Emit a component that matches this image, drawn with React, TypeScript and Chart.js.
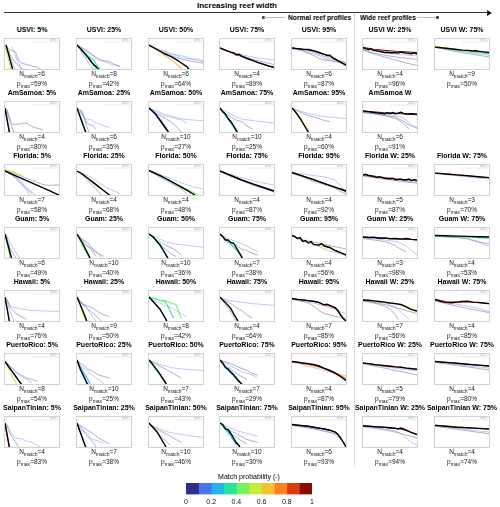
import React, { useEffect, useRef } from 'react';
import { Chart, registerables } from 'chart.js';
Chart.register(...registerables);

type Fit = [number, number[]];

// ---------- text data ----------
const titles: string[][] = [
  ['USVI: 5%', 'USVI: 25%', 'USVI: 50%', 'USVI: 75%', 'USVI: 95%', 'USVI W: 25%', 'USVI W: 75%'],
  ['AmSamoa: 5%', 'AmSamoa: 25%', 'AmSamoa: 50%', 'AmSamoa: 75%', 'AmSamoa: 95%', 'AmSamoa W'],
  ['Florida: 5%', 'Florida: 25%', 'Florida: 50%', 'Florida: 75%', 'Florida: 95%', 'Florida W: 25%', 'Florida W: 75%'],
  ['Guam: 5%', 'Guam: 25%', 'Guam: 50%', 'Guam: 75%', 'Guam: 95%', 'Guam W: 25%', 'Guam W: 75%'],
  ['Hawaii: 5%', 'Hawaii: 25%', 'Hawaii: 50%', 'Hawaii: 75%', 'Hawaii: 95%', 'Hawaii W: 25%', 'Hawaii W: 75%'],
  ['PuertoRico: 5%', 'PuertoRico: 25%', 'PuertoRico: 50%', 'PuertoRico: 75%', 'PuertoRico: 95%', 'PuertoRico W: 25%', 'PuertoRico W: 75%'],
  ['SaipanTinian: 5%', 'SaipanTinian: 25%', 'SaipanTinian: 50%', 'SaipanTinian: 75%', 'SaipanTinian: 95%', 'SaipanTinian W: 25%', 'SaipanTinian W: 75%'],
];
const nMatch: number[][] = [
  [6, 8, 6, 4, 6, 4, 9],
  [4, 6, 10, 10, 4, 6],
  [7, 4, 4, 4, 4, 5, 3],
  [6, 10, 10, 7, 4, 3, 4],
  [4, 9, 8, 4, 7, 7, 4],
  [8, 10, 7, 7, 4, 5, 4],
  [4, 7, 10, 10, 6, 4, 4],
];
const pMax: number[][] = [
  [59, 42, 64, 89, 87, 96, 50],
  [80, 35, 27, 25, 60, 91],
  [58, 68, 48, 87, 92, 87, 70],
  [49, 40, 36, 38, 56, 98, 53],
  [76, 50, 42, 64, 85, 56, 85],
  [54, 25, 43, 29, 87, 79, 80],
  [83, 38, 46, 30, 93, 94, 74],
];

// ---------- colour scale ----------
const probTicks = [0, 0.2, 0.4, 0.6, 0.8, 1];
const binColors = ['#2f3088', '#4a74ee', '#24b5e6', '#24e6a2', '#74f35c', '#c5ee3a', '#f2c233', '#fb8124', '#dc3c0c', '#8c0c04'];
const mslLevel = 9.0;
const mslStart = 5.2;

// ---------- profiles (x, y pairs flattened) ----------
const usviObs: number[][] = [
  [0.2, 8, 0.5, 6, 0.8, 4, 1.1, 2, 1.4, 0, 1.5, -1],
  [0, 8, 0.8, 6.5, 1.5, 5, 2.2, 3.5, 2.8, 2, 3.5, 0.8, 4.2, -0.5],
  [0, 8, 1, 7, 2, 6, 3, 5, 4, 4.2, 5, 3.2, 6, 2, 7, 0.8, 7.6, -0.5],
  [0, 7, 1, 6.3, 2, 5.6, 2.6, 5.3, 3, 4.7, 3.5, 4.9, 4, 4.3, 5, 3.5, 6, 2.9, 7, 2.2, 8, 1.6, 9, 1, 10, 0.6],
  [0, 7, 1, 6.8, 2, 6.6, 3, 6.5, 4, 6.1, 5, 5.5, 6, 4.9, 6.5, 4.5, 7, 4.6, 7.5, 3.8, 8, 3.3, 8.5, 2.8, 9, 2.3, 9.5, 1.8, 10, 1.2],
  [0, 7.1, 0.5, 6.8, 1, 6.5, 1.5, 6.7, 2, 6.2, 3, 5.9, 4, 5.5, 4.5, 5.6, 5, 5.4, 6, 5.5, 6.5, 5.3, 7, 5.6, 8, 5.3, 9, 5.1, 9.5, 5.4, 10, 5.0],
  [0, 7.3, 2, 6.9, 4, 6.5, 5, 6.3, 6, 6.2, 7, 6.0, 7.5, 6.1, 8, 5.9, 9, 5.7, 10, 5.5],
];
const usviFits: Fit[][] = [
  [[0.59, [0, 8, 0.4, 5, 0.8, 2, 1.1, 0, 1.2, -1]], [0.15, [0.3, 7.5, 0.8, 5, 1.2, 3, 1.6, 1, 2, -0.5]], [0.08, [0.5, 7.2, 1, 6.2, 1.5, 6, 2, 5.4, 2.5, 3, 3, 2, 4, 1.5, 5, 1, 6, 0.6, 6.5, 0]], [0.05, [0.2, 7.6, 1, 4.5, 2, 2, 3, 0.5, 3.5, -0.5]], [0.1, [1.2, 7.5, 1.5, 6.8, 2, 4, 2.5, 2, 3, 0]]],
  [[0.42, [0, 8, 1, 6, 2, 4, 2.6, 2.5, 3.2, 0.8, 3.8, -0.5]], [0.3, [0, 7.8, 1, 6.2, 2, 4.5, 3, 3, 3.8, 1, 4.3, 0]], [0.12, [0, 7.8, 1, 6.8, 2, 5.5, 3, 4.5, 4, 3.5, 5, 2.5, 6, 1.8, 7, 1.3, 8, 1]], [0.08, [0, 8, 1, 7, 2, 6, 3, 4.5, 4, 3, 5, 2.8, 6, 2.5, 7, 1.5, 8, 0.7]], [0.06, [0.3, 7.6, 1, 5, 1.8, 3, 2.5, 1, 3, 0]]],
  [[0.64, [0, 8, 1, 6.8, 2, 5.6, 3, 4.4, 4, 3.2, 5, 1.8, 5.8, 0.5, 6.3, -0.5]], [0.1, [0, 7.8, 2, 6.2, 4, 5, 5, 4.5, 6, 3.8, 7, 3.5, 8, 3.3, 9, 3.3, 10, 2.8]], [0.08, [0, 7.6, 2, 5.8, 4, 4.5, 6, 3.3, 8, 2.5, 10, 2]], [0.12, [0, 8, 2, 6.5, 4, 5.2, 5, 4.8, 7, 4, 8, 3.2, 10, 2.5]]],
  [[0.89, [0, 7, 1, 6.2, 2, 5.5, 3, 4.8, 4, 4.2, 5, 3.5, 6, 2.8, 7, 2.1, 8, 1.5, 9, 1, 10, 0.5]], [0.1, [0, 7, 2, 5.8, 4, 4.8, 6, 4, 8, 3.4, 10, 3]], [0.08, [0, 6.8, 2, 5.5, 4, 4.5, 6, 3.3, 8, 2.3, 10, 1.5]]],
  [[0.87, [0, 7, 2, 6.6, 3, 6.4, 4, 6, 5, 5.5, 6, 4.9, 7, 4.3, 8, 3.4, 9, 2.3, 10, 1.3]], [0.1, [0, 6.8, 2, 6.2, 3, 5.5, 4, 5, 5, 4.5, 6, 3.5, 7, 3, 8, 2.7, 9, 2.2, 10, 1.8]], [0.08, [0, 6.8, 2, 6, 3, 5.2, 4, 4.5, 5, 3.5, 6, 3, 7, 2.8, 8, 2.5, 10, 1.5]], [0.05, [0, 7, 2, 6.4, 4, 5.6, 6, 4.2, 8, 3, 10, 2.2]]],
  [[0.96, [0, 7.2, 2, 6.6, 4, 6.2, 6, 5.9, 8, 5.7, 10, 5.5]], [0.1, [0, 6.8, 2, 6, 4, 5.4, 6, 5, 8, 4.6, 10, 4.4]], [0.08, [0, 6.5, 2, 5.3, 4, 4.6, 6, 4, 8, 3.6, 10, 3.2]], [0.06, [0, 6.3, 2, 5, 4, 4, 6, 3, 8, 2, 10, 1.2]]],
  [[0.5, [0, 7.5, 2, 7, 4, 6.6, 6, 6.2, 8, 5.8, 10, 5.4]], [0.3, [0, 7.4, 2, 6.9, 4, 6.4, 6, 6, 8, 5.5, 10, 5.1]], [0.1, [0, 7.3, 2, 6.7, 4, 6.1, 6, 5.6, 8, 5.1, 10, 4.6]], [0.08, [0, 7.2, 2, 6.5, 4, 5.8, 6, 5.2, 8, 4.6, 10, 4]]],
];

const amsamoaObs: number[][] = [
  [0, 8, 0.2, 6, 0.4, 4, 0.6, 2, 0.8, 0, 0.9, -1],
  [0, 8, 0.4, 6, 0.8, 4, 1.2, 2, 1.6, 0, 1.7, -1],
  [0, 8, 0.6, 7, 1.2, 6, 1.8, 4.5, 2.4, 3, 3, 1.5, 3.6, 0, 3.8, -1],
  [0, 8, 0.5, 6.8, 1, 6, 1.5, 4.5, 2, 3.5, 2.5, 2, 3, 0.5, 3.3, -1],
  [0, 8, 0.5, 7, 1, 5.8, 1.5, 4.5, 2, 3, 2.5, 1.5, 3, 0, 3.2, -1],
  [0, 7, 1, 6.8, 2, 6.5, 3, 6.3, 4, 6.1, 4.5, 6.4, 5, 6.2, 5.5, 6.5, 6, 6.1, 6.5, 6.3, 7, 6.6, 7.5, 6.2, 8, 6.0, 9, 6.1, 10, 5.9],
];
const amsamoaFits: Fit[][] = [
  [[0.8, [0, 8, 0.3, 5, 0.6, 2, 0.8, 0, 0.9, -1]], [0.08, [0.4, 7.5, 0.8, 5, 1.2, 3, 1.6, 2.5, 2.5, 2.6, 3.5, 3, 4.2, 2.8, 5, 1.8, 6, 1.2, 7, 0.8]], [0.05, [0.2, 7.8, 0.8, 4, 1.2, 2, 1.6, 0]]],
  [[0.35, [0, 8, 0.5, 5.5, 1, 3, 1.4, 1, 1.6, 0]], [0.1, [0.4, 7.5, 1, 5.5, 1.5, 4.5, 2, 4, 2.5, 4.2, 3, 3.5, 3.5, 3, 4, 2.8, 5, 2, 6, 1.5]], [0.08, [0.3, 7.8, 0.8, 6.5, 1.3, 5, 1.8, 3, 2.3, 2.5, 3, 2, 3.5, 1]], [0.06, [0.6, 7.5, 1, 6.8, 1.2, 5.5, 1.6, 3, 2, 1, 2.2, 0]]],
  [[0.27, [0, 8, 1, 6.5, 2, 4, 3, 1.2, 3.5, 0]], [0.1, [0, 8, 1, 7, 2, 6, 3, 5.3, 4, 5, 5, 4.8, 6, 4.4, 7, 4.2, 8, 4, 10, 3.8]], [0.08, [0, 7.8, 1, 6.5, 2, 5.5, 3, 4.5, 4, 3.5, 5, 2, 5.5, 1, 6, 0]], [0.06, [0, 7.8, 1, 6, 2, 4.5, 2.5, 3.5, 3, 2, 3.5, 0.5]], [0.12, [0, 8, 1.5, 7, 3, 5.8, 4, 5.5, 5, 4.5, 6, 4, 7, 3]]],
  [[0.25, [0, 8, 0.6, 6.5, 1.2, 5, 1.8, 3.5, 2.4, 2, 3, 0.5, 3.3, -1]], [0.2, [0, 7.8, 0.8, 6, 1.5, 4.5, 2.2, 3, 2.8, 1.5, 3.3, 0]], [0.1, [0, 8, 1, 7, 2, 6, 3, 5, 4, 4.3, 6, 3.8, 8, 3.4, 10, 3]], [0.08, [0, 7.8, 1, 6.2, 2, 5, 3, 4, 4, 3.5, 5, 2, 6, 1]]],
  [[0.6, [0, 8, 0.5, 7, 1, 6, 1.5, 4.8, 2, 3.5, 2.5, 2, 3, 0.5, 3.2, -1]], [0.1, [0, 8, 1, 7.3, 2, 6.7, 3, 6.2, 4, 5.8, 5, 5.4, 6, 5.2, 8, 4.8, 10, 4.5]], [0.08, [0, 7.8, 1, 7, 2, 6.2, 3, 5.5, 4, 5, 5, 4.5, 6, 3.8, 7, 3.5]]],
  [[0.91, [0, 7, 2, 6.7, 4, 6.4, 6, 6.2, 8, 6, 10, 5.8]], [0.1, [0, 6.8, 2, 6.4, 4, 6, 6, 5.5, 7, 5, 8, 4, 9, 2.5, 10, 1]], [0.08, [0, 6.6, 2, 6.2, 4, 5.6, 6, 5, 7, 4, 8, 3, 9, 2, 10, 1.5]], [0.06, [0, 6.5, 2, 6, 4, 5.5, 5, 5, 6, 4.5, 7, 3.5, 8, 2, 8.5, 1]]],
];

const floridaObs: number[][] = [
  [0, 8, 2, 6.4, 4, 4.8, 6, 3.2, 8, 1.6, 9.5, 0.4, 10, 0],
  [0, 8, 1, 7, 2, 5.6, 3, 4.2, 4, 2.8, 5, 1.4, 6, 0, 6.5, -0.5],
  [0, 8.2, 2, 6.5, 4, 4.6, 6, 2.6, 7, 1.6, 8, 0.5, 8.5, 0],
  [0, 8, 2, 6.5, 4, 5, 6, 3.7, 8, 2.5, 10, 1.3],
  [0, 7.5, 2, 6.3, 4, 5.1, 6, 3.8, 8, 2.6, 10, 1.4],
  [0, 6.6, 0.5, 6.9, 1, 6.5, 2, 6.2, 2.5, 5.8, 3, 6.1, 4, 5.6, 5, 5.4, 5.5, 5.6, 6, 5.1, 7, 5.3, 7.5, 5.0, 8, 5.0, 8.5, 5.3, 9, 4.8, 9.5, 5.1, 10, 4.8],
  [0, 7.3, 2, 7.0, 4, 6.7, 6, 6.4, 8, 6.1, 10, 5.8],
];
const floridaFits: Fit[][] = [
  [[0.58, [0, 8.6, 1, 8, 2, 7.4, 3, 6.6, 3.5, 6.2]], [0.12, [0, 8, 1, 7, 2, 5.5, 3, 3.5, 4, 1.5, 4.5, 0]], [0.1, [0, 8, 1.5, 6.5, 3, 4.5, 4, 2.5, 5, 1, 5.5, 0]], [0.08, [0, 8.2, 2, 7, 4, 5.5, 6, 4.2, 7, 3.5, 8, 3.2, 9, 3.3, 10, 3.3]], [0.06, [0, 8, 2, 6, 3, 4, 4, 2, 5, 0.5]]],
  [[0.68, [0, 8, 1, 6.8, 2, 5.5, 3, 4, 4, 2.6, 5, 1.2, 6, -0.2]], [0.1, [0, 8, 1, 7.2, 2, 6.5, 3, 5.5, 4, 4.2, 5, 3, 6, 2, 7, 1.2, 8, 0.5]], [0.08, [0, 8, 1, 6.5, 2, 4.8, 3, 3, 4, 1, 4.5, 0]]],
  [[0.48, [0, 8.2, 2, 6.4, 4, 4.6, 6, 2.8, 8, 1, 9, 0]], [0.1, [0, 8, 2, 6.8, 4, 5.5, 6, 4, 8, 2.8, 10, 2]], [0.08, [0, 8, 2, 6, 4, 4, 6, 2, 7, 0.5]]],
  [[0.87, [0, 8, 2, 6.6, 4, 5.1, 6, 3.8, 8, 2.6, 10, 1.4]], [0.1, [0, 7.8, 2, 6.8, 4, 5.8, 6, 4.8, 8, 4, 10, 3.3]], [0.08, [0, 7.8, 2, 6.2, 4, 4.8, 6, 3.3, 8, 2.2, 10, 1]]],
  [[0.92, [0, 7.5, 2, 6.3, 4, 5.1, 6, 3.8, 8, 2.5, 10, 1.2]], [0.1, [0, 7.3, 2, 7, 4, 6.5, 6, 6, 7, 5.5, 8, 5, 9, 3, 10, 0.5]], [0.08, [0, 7.2, 2, 6, 4, 4.5, 6, 3.5, 8, 2.2, 9, 1.2, 10, 0.3]]],
  [[0.87, [0, 6.8, 2, 6.3, 4, 5.8, 6, 5.4, 8, 5.1, 10, 4.8]], [0.1, [0, 6.5, 2, 6, 4, 5.5, 6, 5, 8, 4.6, 10, 4.3]], [0.08, [0, 6.3, 2, 5.8, 4, 5.2, 6, 4.8, 8, 4.3, 10, 4]]],
  [[0.7, [0, 7.4, 2, 7.05, 4, 6.7, 6, 6.4, 8, 6.1, 10, 5.75]], [0.15, [0, 7.2, 2, 6.8, 4, 6.4, 6, 6, 8, 5.6, 10, 5.3]]],
];

const guamObs: number[][] = [
  [0, 8, 0.3, 6, 0.6, 4, 0.9, 2, 1.2, 0, 1.3, -1],
  [0, 8, 0.5, 6.5, 1, 5, 1.5, 3.2, 2, 1.5, 2.4, 0, 2.6, -1],
  [0, 8, 0.8, 7, 1.5, 5.5, 2, 4.5, 2.5, 3, 3, 1.5, 3.5, 0, 3.7, -1],
  [0, 8, 0.5, 7.2, 1, 6, 1.5, 6, 2, 5.2, 2.5, 5, 3, 3.5, 3.5, 2, 4, 0.5, 4.3, -1],
  [0, 7.5, 0.5, 7.2, 1, 6.5, 1.5, 6.8, 2, 5.5, 2.5, 5.8, 3, 5, 3.5, 5.5, 4, 4.5, 5, 4.3, 5.5, 4.8, 6, 4, 7, 3.5, 8, 2.5, 9, 1.8, 10, 1],
  [0, 7, 1, 6.8, 2, 6.9, 3, 6.6, 4, 6.7, 5, 6.4, 6, 6.5, 7, 6.3, 8, 6.5, 9, 6.2, 10, 6.1],
  [0, 7.5, 2, 7.4, 4, 7.3, 6, 7.2, 8, 7.1, 10, 7.0],
];
const guamFits: Fit[][] = [
  [[0.49, [0, 8, 0.3, 5.5, 0.6, 3, 0.9, 0.5, 1, -0.5]], [0.1, [0.3, 7.5, 0.8, 5.5, 1.2, 4, 1.6, 3, 2, 2, 2.5, 0.5, 2.8, 0]], [0.08, [0.2, 7.8, 0.6, 5, 1, 3, 1.5, 1.5, 2, 0]]],
  [[0.4, [0, 8, 0.5, 6, 1, 4.2, 1.5, 2.5, 2, 0.8, 2.3, 0]], [0.1, [0, 8, 1, 6.5, 1.5, 5, 2, 4, 3, 3, 4, 1.5, 4.5, 0]], [0.08, [0, 7.8, 0.8, 6, 1.5, 4.5, 2.5, 3, 3, 2, 3.5, 0.5]], [0.06, [0.3, 7.5, 1, 6, 1.8, 5.5, 2.5, 4, 3, 2.5, 4, 1.5, 5, 0.5]]],
  [[0.36, [0, 8, 0.8, 6.8, 1.6, 5, 2.4, 3, 3, 1.2, 3.4, 0]], [0.1, [0, 8, 1, 7.2, 2, 6.3, 3, 5.5, 4, 5, 5, 4.6, 7, 4.2, 10, 3.6]], [0.08, [0, 7.8, 1, 6.5, 2, 5.5, 3, 4.2, 4, 3.5, 5, 2.5, 6, 1]], [0.06, [0, 8, 1, 6.2, 2, 4.5, 3, 3, 4, 1.5, 5, 0.5]]],
  [[0.38, [0, 8, 0.6, 6.8, 1.2, 5.8, 2, 4.8, 2.8, 3, 3.5, 1.5, 4, 0]], [0.1, [0, 7.8, 1, 7, 2, 6.2, 3, 5.5, 4, 4.8, 5, 4, 6, 3, 7, 2]], [0.08, [0, 7.8, 1, 6.5, 2, 5, 3, 4.2, 4, 3, 5, 2.5, 6, 1.5, 7, 1]], [0.06, [0.2, 7.5, 0.8, 6, 1.6, 5, 2.4, 4, 3, 3, 3.6, 1.5]]],
  [[0.56, [0, 7.5, 1, 6.8, 2, 6, 3, 5.2, 4, 4.6, 5, 4.2, 6, 3.8, 7, 3.2, 8, 2.5, 9, 1.8, 10, 1.1]], [0.1, [0, 7.3, 1, 6.5, 2, 5.5, 3, 5, 4, 4.5, 5, 3.8, 6, 3, 7, 2.2, 8, 1.8, 10, 1]], [0.08, [0, 7.2, 2, 6, 4, 5.3, 6, 4.5, 8, 3.8, 10, 3]]],
  [[0.98, [0, 7.1, 2, 6.85, 4, 6.6, 6, 6.4, 8, 6.25, 10, 6.1]], [0.1, [0, 6.8, 2, 6.5, 4, 6, 6, 5.5, 7, 5, 8, 4, 9, 2.5, 10, 1]], [0.08, [0, 6.5, 2, 6, 4, 5.5, 5, 5, 6, 4, 7, 3, 8, 2]]],
  [[0.53, [0, 7.5, 2, 7.4, 4, 7.3, 6, 7.2, 7, 7.1, 8, 7.05, 10, 6.9]], [0.3, [0, 7.4, 2, 7.3, 4, 7.2, 6, 7, 8, 6.8, 10, 6.6]], [0.1, [0, 7.3, 2, 7.1, 4, 6.9, 6, 6.6, 7, 6, 8, 5.3, 9, 4.5, 10, 4]], [0.08, [0, 7.2, 2, 7, 4, 6.8, 6, 6.4, 7, 5.8, 8, 5.5, 9, 5, 10, 4.8]]],
];

const hawaiiObs: number[][] = [
  [0, 8, 0.2, 6, 0.4, 4, 0.6, 2, 0.8, 0, 0.9, -1],
  [0, 8, 0.4, 6.3, 0.8, 4.6, 1.2, 2.8, 1.6, 1, 1.8, 0, 1.9, -1],
  [0, 8, 0.5, 7, 1, 6, 1.5, 5, 2, 4, 2.5, 2.5, 3, 1, 3.3, 0, 3.4, -1],
  [0, 8, 0.5, 7, 1, 6.2, 1.5, 5.2, 2, 4.2, 2.5, 2.5, 3, 1, 3.3, 0, 3.4, -1],
  [0, 7.5, 1, 7.2, 2, 7, 3, 6.8, 4, 6.6, 5, 6.2, 5.5, 5.7, 6, 5.4, 6.5, 5.6, 7, 5.2, 7.5, 4.8, 8, 4.5, 8.5, 3.5, 9, 2, 9.5, 0.8, 10, 0],
  [0, 7, 1, 6.9, 2, 6.7, 3, 6.5, 4, 6.3, 5, 6.0, 6, 5.8, 7, 5.5, 7.5, 5.1, 8, 4.7, 8.5, 4.2, 9, 3.8, 10, 3.3],
  [0, 7.2, 1, 6.6, 2, 6.2, 3, 6.1, 4, 6.3, 5, 6.5, 6, 6.6, 7, 6.3, 8, 6.2, 9, 6.0, 10, 5.8],
];
const hawaiiFits: Fit[][] = [
  [[0.76, [0, 8, 0.25, 5.5, 0.5, 3, 0.7, 1, 0.8, -0.5]], [0.1, [0.5, 6.5, 1, 5, 1.5, 4.5, 2, 4.5, 3, 4, 4, 3.8, 5, 3.5, 6, 3.4, 8, 3.3, 10, 3.2]], [0.15, [0.2, 7.8, 0.6, 5, 1, 3, 1.4, 1, 1.6, 0]], [0.08, [0.3, 7.5, 1, 4.5, 2, 2.5, 3, 1.5, 4, 0.5]]],
  [[0.5, [0, 8, 0.4, 6, 0.8, 4, 1.2, 2, 1.5, 0.5, 1.7, -0.5]], [0.1, [0, 8, 0.5, 6.5, 1, 5.5, 1.5, 4.8, 2, 3.8, 2.5, 2.5, 3, 1, 3.5, 0]], [0.08, [0.2, 7.5, 0.7, 6, 1.2, 5.5, 2, 5, 3, 4.2, 4, 3, 5, 2, 6, 1.5]], [0.06, [0, 7.8, 1, 6, 2, 4, 3, 2.5, 4, 1, 4.5, 0]]],
  [[0.42, [0, 8, 1, 7.5, 2, 7, 3, 6.8, 4, 6, 5, 5.5, 5.5, 3, 6, 1]], [0.3, [0, 8, 1, 7.4, 2, 6.9, 3, 6.5, 3.5, 5, 4, 3, 4.5, 1]], [0.2, [0, 8, 0.8, 6.5, 1.5, 5, 2.2, 3.5, 2.8, 1.5, 3.2, 0]], [0.1, [0, 7.8, 1, 6.8, 2, 6, 3, 5, 4, 4.5, 5, 3.5, 6, 2.5, 7, 1.5]]],
  [[0.64, [0, 8, 0.5, 7, 1, 6, 1.5, 5, 2, 4, 2.5, 2.5, 3, 1, 3.3, 0]], [0.1, [0, 7.8, 1, 7.2, 2, 6.8, 3, 6.5, 4, 6.2, 5, 6, 6, 5.8, 8, 5.5, 10, 5.2]], [0.08, [0, 7.8, 1, 6.8, 2, 5.8, 3, 4.5, 4, 3.5, 5, 2, 6, 1]], [0.06, [0, 8, 0.6, 6.5, 1.2, 5, 2, 3, 2.5, 1.5, 3, 0]]],
  [[0.85, [0, 7.5, 1, 7.2, 2, 7, 3, 6.8, 4, 6.5, 5, 6.1, 6, 5.4, 7, 5, 8, 4.2, 8.5, 3.2, 9, 2, 9.5, 0.8, 10, 0]], [0.1, [0, 7.3, 2, 6.6, 4, 6, 6, 5, 7, 4.5, 8, 4, 9, 3, 10, 2.5]], [0.08, [0, 7.2, 2, 6.5, 3, 6, 4, 5, 5, 3.5, 6, 2.5, 7, 2, 8, 1.5, 10, 1]]],
  [[0.56, [0, 7, 2, 6.6, 4, 6.2, 6, 5.8, 8, 5, 9, 4.2, 10, 3.5]], [0.1, [0, 6.8, 2, 6.4, 4, 6, 5, 5.5, 6, 4.5, 7, 3, 8, 1.5, 8.5, 0.5]], [0.08, [0, 6.8, 2, 6.2, 4, 5.5, 6, 4.5, 8, 3.5, 10, 2.5]], [0.06, [0, 6.6, 2, 6, 4, 5, 5, 4, 6, 2, 6.5, 0.5]]],
  [[0.85, [0, 7.2, 2, 6.5, 4, 6.3, 6, 6.4, 8, 6.1, 10, 5.8]], [0.1, [0, 6.8, 2, 6.2, 4, 5.6, 6, 5, 8, 4.2, 10, 3.2]], [0.08, [0, 6.6, 2, 5.8, 4, 5, 6, 4.2, 8, 3.5, 10, 2.8]]],
];

const puertoRicoObs: number[][] = [
  [0, 7.5, 0.5, 6.2, 1, 5, 1.5, 3.8, 2, 2.5, 2.5, 1.2, 3, 0, 3.2, -0.5],
  [0, 8, 0.3, 6.5, 0.6, 5, 1, 3.5, 1.4, 2, 1.8, 0.5, 2, -0.5],
  [0, 8, 0.5, 7, 1, 5.8, 1.5, 4.6, 2, 3.4, 2.5, 2, 3, 0.6, 3.3, -0.5],
  [0, 8, 0.5, 7, 1, 5.5, 1.5, 5, 2, 4, 2.5, 3.2, 3, 2, 3.5, 1, 4, 0, 4.2, -0.5],
  [0, 7.5, 1, 7.3, 2, 7, 3, 6.8, 4, 6.5, 5, 6, 6, 5.2, 7, 4.5, 8, 3.6, 9, 2.5, 10, 1.2],
  [0, 7, 1, 6.8, 2, 6.5, 3, 6.3, 4, 6.1, 5, 5.9, 6, 5.7, 7, 5.6, 8, 5.3, 9, 5.1, 10, 4.9],
  [0, 7.5, 2, 7.2, 4, 6.9, 6, 6.6, 8, 6.3, 10, 6.0],
];
const puertoRicoFits: Fit[][] = [
  [[0.54, [0, 7.3, 0.5, 5.5, 1, 3.8, 1.5, 2, 2, 0.5, 2.2, -0.5]], [0.2, [0, 7.5, 0.6, 6, 1.2, 4.5, 1.8, 3, 2.4, 1.5, 3, 0.2]], [0.1, [0, 7.5, 1, 6, 2, 4, 3, 2.5, 4, 1.5, 5, 0.5]], [0.08, [0.3, 7.2, 1, 5.8, 1.5, 5, 2, 4, 3, 3, 4, 2, 5, 1.5, 6, 1]]],
  [[0.25, [0, 8, 0.4, 6, 0.8, 4.2, 1.2, 2.5, 1.6, 1, 1.9, 0]], [0.2, [0, 8, 0.5, 6.2, 1, 4.5, 1.5, 3, 2, 1.5, 2.4, 0]], [0.1, [0, 7.8, 0.8, 6, 1.5, 5, 2.5, 3.5, 3.5, 2, 4.5, 1, 5, 0]], [0.08, [0.2, 7.5, 1, 6.5, 2, 5, 3, 4.2, 4, 3, 5, 2.5, 6, 2]]],
  [[0.43, [0, 8, 0.5, 6.8, 1, 5.6, 1.5, 4.4, 2, 3.2, 2.5, 1.8, 3, 0.5, 3.2, -0.5]], [0.3, [0, 8, 0.6, 6.5, 1.2, 5, 1.8, 3.5, 2.4, 2, 3, 0.5]], [0.1, [0, 8, 1, 7.2, 2, 6.5, 3, 6, 4, 5.5, 6, 5, 8, 4.7, 10, 4.5]], [0.08, [0, 7.8, 1, 7, 2, 6, 3, 5, 4, 4, 5, 3, 6, 2]]],
  [[0.29, [0, 8, 0.5, 6.8, 1, 5.8, 1.5, 4.8, 2, 3.8, 2.5, 2.8, 3, 1.8, 3.5, 0.8, 4, 0]], [0.2, [0, 8, 0.6, 6.5, 1.2, 5, 1.8, 4, 2.4, 3, 3, 2, 3.5, 0.5]], [0.1, [0, 7.8, 1, 7, 2, 6, 3, 5, 4, 4, 5, 3.5, 6, 3, 7, 2]], [0.08, [0, 8, 1, 7.3, 2, 6.8, 3, 6, 4, 5.2, 5, 4.5, 6, 3.5, 7, 3]], [0.06, [0.2, 7.5, 1, 6, 2, 5, 3, 3.5, 4, 2.5, 5, 1.5]]],
  [[0.87, [0, 7.5, 1, 7.3, 2, 7, 3, 6.7, 4, 6.3, 5, 5.8, 6, 5.1, 7, 4.4, 8, 3.5, 9, 2.5, 10, 1.3]], [0.75, [0, 7.4, 2, 6.8, 4, 6.1, 6, 5.2, 8, 3.8, 10, 2]], [0.1, [0, 7.2, 2, 6.5, 4, 5.5, 6, 4.5, 8, 3.5, 10, 2.8]]],
  [[0.79, [0, 7, 2, 6.6, 4, 6.2, 6, 5.8, 8, 5.4, 10, 5.0]], [0.1, [0, 6.8, 2, 6.3, 4, 5.8, 6, 5.3, 8, 4.8, 10, 4.4]], [0.08, [0, 6.7, 2, 6, 4, 5.3, 6, 4.5, 8, 3.8, 10, 3]]],
  [[0.8, [0, 7.5, 2, 7.2, 4, 6.9, 6, 6.6, 8, 6.3, 10, 6.0]], [0.1, [0, 7.3, 2, 6.9, 4, 6.5, 6, 6.1, 8, 5.7, 10, 5.3]], [0.08, [0, 7.2, 2, 6.7, 4, 6.2, 6, 5.7, 8, 5.2, 10, 4.7]]],
];

const saipanObs: number[][] = [
  [0, 8, 0.2, 6, 0.4, 4, 0.6, 2, 0.8, 0, 0.9, -1],
  [0, 8, 0.3, 6.5, 0.6, 5, 0.9, 3.5, 1.2, 2, 1.5, 0.5, 1.7, -0.5],
  [0, 8, 0.5, 7, 1, 6, 1.5, 5, 2, 3.5, 2.5, 2, 3, 0.5, 3.2, -0.5],
  [0, 8, 0.5, 7.5, 1, 6, 1.5, 5.8, 2, 4.5, 2.5, 3, 3, 1.5, 3.5, 0.5, 3.8, -0.5],
  [0, 7.5, 1, 7.3, 2, 7.1, 3, 6.9, 4, 6.6, 5, 6.3, 6, 6, 7, 5.6, 8, 5, 8.5, 4.2, 9, 3, 9.5, 1.5, 10, 0],
  [0, 7, 1, 6.9, 2, 6.8, 3, 6.7, 4, 6.6, 5, 6.4, 6, 6.2, 6.5, 6.0, 7, 6.3, 7.5, 6.0, 8, 5.6, 8.5, 5.2, 9, 4.8, 10, 4.2],
  [0, 7.2, 2, 6.9, 4, 6.6, 6, 6.4, 8, 6.2, 10, 6.0],
];
const saipanFits: Fit[][] = [
  [[0.83, [0, 8, 0.2, 5.8, 0.4, 3.8, 0.6, 1.8, 0.8, 0, 0.9, -1]], [0.1, [0.4, 7.5, 0.8, 6, 1.2, 4.5, 1.6, 3.5, 2, 3, 3, 2.8, 4, 2, 5, 1.5, 6, 0.5, 6.5, 0]], [0.08, [0.2, 7.8, 0.8, 5, 1.4, 3, 2, 1.5, 2.5, 0]]],
  [[0.38, [0, 8, 0.3, 6.3, 0.6, 4.8, 0.9, 3.3, 1.2, 1.8, 1.5, 0.3, 1.6, -0.5]], [0.1, [0.3, 7.5, 0.8, 6.5, 1.2, 5.5, 1.6, 5, 2, 4.2, 2.5, 3, 3, 2.5, 4, 2, 5, 1.2]], [0.08, [0, 7.8, 0.8, 6, 1.5, 4.5, 2.2, 3, 3, 1.5, 3.5, 0]], [0.06, [0.2, 7.5, 1, 6.8, 2, 5.5, 3, 4.5, 4, 3, 5, 2, 6, 1]]],
  [[0.46, [0, 8, 0.5, 7, 1, 6, 1.5, 4.8, 2, 3.4, 2.5, 1.9, 3, 0.4, 3.2, -0.5]], [0.1, [0, 7.8, 1, 6.8, 2, 6, 3, 5.3, 4, 4.8, 6, 4.2, 8, 3.6, 10, 3.2]], [0.08, [0, 7.8, 1, 6.5, 2, 5.5, 3, 4.5, 4, 3.5, 5, 2.5, 6, 1.5]], [0.06, [0, 8, 1, 6, 2, 4, 3, 2.2, 4, 0.5]]],
  [[0.3, [0, 8, 0.5, 7.3, 1, 6.2, 1.5, 5.5, 2, 4.3, 2.5, 2.9, 3, 1.5, 3.5, 0.3]], [0.25, [0, 8, 0.5, 7, 1, 5.8, 1.5, 4.8, 2, 3.6, 2.5, 2.2, 3, 0.8]], [0.1, [0, 7.8, 1, 7, 2, 6.3, 3, 5.5, 4, 5, 5, 4.5, 6, 4, 7, 3.5]], [0.08, [0.2, 7.5, 1, 6.5, 2, 5.3, 3, 4.5, 4, 3.5, 5, 2.5, 6, 2, 7, 1.5]], [0.06, [0, 7.8, 1, 6, 2, 4.5, 3, 3.2, 4, 2, 5, 1]]],
  [[0.93, [0, 7.5, 1, 7.3, 2, 7.1, 3, 6.9, 4, 6.6, 5, 6.3, 6, 6, 7, 5.6, 8, 5, 8.5, 4.2, 9, 3, 9.5, 1.6, 10, 0.2]], [0.1, [0, 7.3, 2, 6.8, 4, 6.2, 6, 5.5, 7, 5, 8, 4, 9, 2.5, 10, 1.5]], [0.08, [0, 7.2, 2, 6.6, 4, 6, 6, 5.2, 8, 4.5, 9, 3, 10, 0.5]]],
  [[0.94, [0, 7.1, 2, 6.8, 4, 6.5, 6, 6.2, 7, 6, 8, 5.5, 9, 4.8, 10, 4.1]], [0.1, [0, 6.9, 2, 6.5, 4, 6, 6, 5.4, 7, 4.5, 8, 3, 9, 1.5, 10, 0.5]], [0.08, [0, 6.8, 2, 6.3, 4, 5.7, 6, 5, 8, 4, 10, 3]]],
  [[0.74, [0, 7.3, 2, 7, 4, 6.7, 6, 6.4, 8, 6.2, 10, 6]], [0.1, [0, 7, 2, 6.6, 4, 6.2, 6, 5.8, 8, 5.4, 10, 5.0]], [0.08, [0, 6.9, 2, 6.4, 4, 5.9, 6, 5.4, 8, 4.9, 10, 4.4]]],
];

const rowObs = [usviObs, amsamoaObs, floridaObs, guamObs, hawaiiObs, puertoRicoObs, saipanObs];
const rowFits = [usviFits, amsamoaFits, floridaFits, guamFits, hawaiiFits, puertoRicoFits, saipanFits];

// ---------- layout ----------
const colLeft = [4, 76, 148, 219, 291, 362, 434];
const PANEL_W = 56;
const PANEL_H = 32;
const ROW_PITCH = 63;
const TITLE_Y0 = 30;
const PANEL_Y0 = 38;
const N_Y0 = 74;
const P_Y0 = 84;
const FONT = '"Liberation Sans", Arial, Helvetica, sans-serif';

function toPts(flat: number[]) {
  const out: { x: number; y: number }[] = [];
  for (let i = 0; i < flat.length; i += 2) out.push({ x: flat[i], y: flat[i + 1] });
  return out;
}
function hexA(hex: string, a: number) {
  const r = parseInt(hex.slice(1, 3), 16), g = parseInt(hex.slice(3, 5), 16), b = parseInt(hex.slice(5, 7), 16);
  return `rgba(${r},${g},${b},${a})`;
}
function probColor(p: number) {
  const bin = Math.min(9, Math.floor(p * 10 + 1e-9));
  if (p < 0.2) return hexA(binColors[bin], 0.42);
  return hexA(binColors[bin], 0.95);
}

const mslPlugin = {
  id: 'mslLabel',
  afterDatasetsDraw(chart: any) {
    const { ctx, scales } = chart;
    const x = scales.x.getPixelForValue(9.7);
    const y = scales.y.getPixelForValue(mslLevel);
    ctx.save();
    ctx.fillStyle = '#b0b0b0';
    ctx.font = `3.6px ${FONT}`;
    ctx.textAlign = 'right';
    ctx.textBaseline = 'bottom';
    ctx.fillText('MSL', x, y - 0.5);
    ctx.restore();
  },
};

function Panel({ obs, fits }: { obs: number[]; fits: Fit[] }) {
  const ref = useRef<HTMLCanvasElement>(null);
  useEffect(() => {
    if (!ref.current) return;
    const sorted = [...fits].sort((a, b) => b[0] - a[0]);
    const datasets: any[] = [
      { data: toPts(obs), borderColor: '#000000', borderWidth: 1.4 },
      ...sorted.map(([p, pts]) => ({ data: toPts(pts), borderColor: probColor(p), borderWidth: p < 0.2 ? 0.9 : 1.1 })),
      { data: toPts([mslStart, mslLevel, 9.8, mslLevel]), borderColor: '#c8c8c8', borderWidth: 0.8, borderDash: [1, 1] },
    ];
    const chart = new Chart(ref.current, {
      type: 'line',
      data: { datasets },
      options: {
        animation: false,
        responsive: false,
        devicePixelRatio: 1,
        events: [],
        layout: { padding: 0 },
        plugins: { legend: { display: false }, tooltip: { enabled: false } },
        elements: { point: { radius: 0 }, line: { tension: 0 } },
        scales: {
          x: { type: 'linear', min: 0, max: 10, display: false },
          y: { type: 'linear', min: 0, max: 10, display: false },
        },
      },
      plugins: [mslPlugin],
    });
    return () => chart.destroy();
  }, [obs, fits]);
  return <canvas ref={ref} width={PANEL_W - 2} height={PANEL_H - 2} style={{ width: PANEL_W - 2, height: PANEL_H - 2, display: 'block' }} />;
}

function ColorBar() {
  const ref = useRef<HTMLCanvasElement>(null);
  useEffect(() => {
    if (!ref.current) return;
    const chart = new Chart(ref.current, {
      type: 'bar',
      data: {
        labels: [''],
        datasets: binColors.map((c) => ({ data: [0.1], backgroundColor: c, borderWidth: 0, barPercentage: 1, categoryPercentage: 1 })),
      },
      options: {
        indexAxis: 'y',
        animation: false,
        responsive: false,
        devicePixelRatio: 1,
        events: [],
        layout: { padding: { left: 20, right: 20, top: 0, bottom: 0 } },
        plugins: { legend: { display: false }, tooltip: { enabled: false } },
        scales: {
          x: {
            type: 'linear', min: 0, max: 1, stacked: true,
            afterBuildTicks: (axis: any) => { axis.ticks = probTicks.map((v) => ({ value: v })); },
            ticks: { font: { size: 7, family: FONT }, color: '#111', padding: 3, maxRotation: 0, callback: (v: any) => String(Math.round(Number(v) * 10) / 10) },
            grid: { display: false, drawTicks: false },
            border: { display: false },
          },
          y: { stacked: true, display: false },
        },
      },
    });
    return () => chart.destroy();
  }, []);
  return <canvas ref={ref} width={166} height={23} style={{ position: 'absolute', left: 166, top: 483, width: 166, height: 23 }} />;
}

const abs = (o: React.CSSProperties): React.CSSProperties => ({ position: 'absolute', ...o });

export default function App() {
  const items: React.ReactNode[] = [];
  rowObs.forEach((obsRow, r) => {
    obsRow.forEach((obs, c) => {
      const left = colLeft[c];
      const cx = left + PANEL_W / 2;
      items.push(
        <div key={`t${r}-${c}`} style={abs({ left: cx - 40, width: 80, top: TITLE_Y0 + r * ROW_PITCH - 5, height: 10, lineHeight: '10px', textAlign: 'center', fontWeight: 'bold', fontSize: 7, whiteSpace: 'nowrap' })}>
          {titles[r][c]}
        </div>
      );
      items.push(
        <div key={`p${r}-${c}`} style={abs({ left, top: PANEL_Y0 + r * ROW_PITCH, width: PANEL_W, height: PANEL_H, border: '1px solid #d2d2d2', boxSizing: 'border-box', background: '#fff' })}>
          <Panel obs={obs} fits={rowFits[r][c]} />
        </div>
      );
      items.push(
        <div key={`n${r}-${c}`} style={abs({ left: cx - 30, width: 60, top: N_Y0 + r * ROW_PITCH - 5, height: 10, lineHeight: '10px', textAlign: 'center', fontSize: 6.5, color: '#222', whiteSpace: 'nowrap' })}>
          N<sub style={{ fontSize: 5, verticalAlign: '-1.5px' }}>match</sub>={nMatch[r][c]}
        </div>
      );
      items.push(
        <div key={`m${r}-${c}`} style={abs({ left: cx - 30, width: 60, top: P_Y0 + r * ROW_PITCH - 5, height: 10, lineHeight: '10px', textAlign: 'center', fontSize: 6.5, color: '#222', whiteSpace: 'nowrap' })}>
          p<sub style={{ fontSize: 5, verticalAlign: '-1.5px' }}>max</sub>={pMax[r][c]}%
        </div>
      );
    });
  });

  return (
    <div style={{ position: 'fixed', left: 0, top: 0, width: 500, height: 507, background: '#fff', fontFamily: FONT, color: '#000', overflow: 'hidden' }}>
      {/* header */}
      <div style={abs({ left: 157, width: 160, top: 1, height: 10, lineHeight: '10px', textAlign: 'center', fontWeight: 'bold', fontSize: 8 })}>Increasing reef width</div>
      <div style={abs({ left: 4, top: 12, width: 484, height: 0, borderTop: '1px solid #333' })} />
      <div style={abs({ left: 487, top: 9.5, width: 0, height: 0, borderTop: '3px solid transparent', borderBottom: '3px solid transparent', borderLeft: '5px solid #111' })} />
      <div style={abs({ left: 262, top: 16, width: 2.5, height: 2.5, background: '#444', borderRadius: 1 })} />
      <div style={abs({ left: 264, top: 17, width: 21, height: 0, borderTop: '1px solid #bbb' })} />
      <div style={abs({ left: 288, top: 12.5, height: 10, lineHeight: '10px', fontWeight: 'bold', fontSize: 6.7, whiteSpace: 'nowrap' })}>Normal reef profiles</div>
      <div style={abs({ left: 360, top: 12.5, height: 10, lineHeight: '10px', fontWeight: 'bold', fontSize: 6.7, whiteSpace: 'nowrap' })}>Wide reef profiles</div>
      <div style={abs({ left: 417, top: 17, width: 20, height: 0, borderTop: '1px solid #bbb' })} />
      <div style={abs({ left: 436, top: 16, width: 2.5, height: 2.5, background: '#444', borderRadius: 1 })} />
      <div style={abs({ left: 354, top: 14, width: 0, height: 452, borderLeft: '1px dotted #bdbdbd' })} />
      {items}
      <div style={abs({ left: 169, width: 160, top: 472, height: 10, lineHeight: '10px', textAlign: 'center', fontSize: 7 })}>Match probability (-)</div>
      <ColorBar />
    </div>
  );
}
